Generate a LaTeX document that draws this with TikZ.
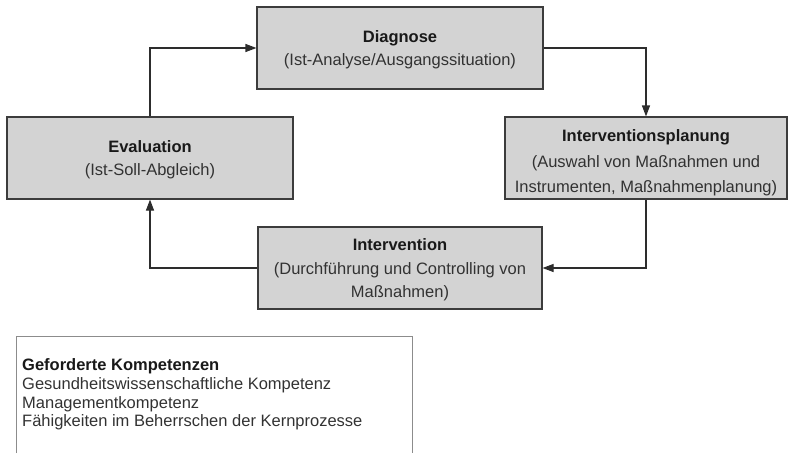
\documentclass[tikz,border=0pt]{standalone}
\usepackage{fontspec}
\setmainfont{Liberation Sans}
\usetikzlibrary{arrows.meta}
\definecolor{boxfill}{RGB}{211,211,211}
\definecolor{boxline}{RGB}{60,60,60}
\definecolor{arrowc}{RGB}{45,45,45}
\definecolor{txtreg}{RGB}{50,50,50}
\definecolor{txtbold}{RGB}{25,25,25}
\definecolor{framec}{RGB}{140,140,140}
\newcommand{\topstrut}{\rule{0pt}{16pt}}
\begin{document}
\begin{tikzpicture}[x=1pt,y=-1pt,
  stage/.style={draw=boxline, fill=boxfill, line width=1.1pt, minimum height=82pt,
    inner sep=0pt, align=center, font=\fontsize{16.5}{23.3}\selectfont, text=txtreg},
  flow/.style={draw=arrowc, line width=1.1pt, -{Triangle[length=11pt,width=8pt]}},
]
\useasboundingbox (0,0) rectangle (788,453);
\node[stage, minimum width=286pt] (diag) at (400,48)
  {\topstrut\textcolor{txtbold}{\bfseries Diagnose}\\(Ist-Analyse/Ausgangssituation)};
\node[stage, minimum width=286pt] (eval) at (150,158)
  {\topstrut\textcolor{txtbold}{\bfseries Evaluation}\\(Ist-Soll-Abgleich)};
\node[stage, minimum width=282pt, font=\fontsize{16.5}{25.5}\selectfont] (plan) at (646,158)
  {\rule{0pt}{22pt}\textcolor{txtbold}{\bfseries Interventionsplanung}\\(Auswahl von Maßnahmen und\\Instrumenten, Maßnahmenplanung)};
\node[stage, minimum width=284pt] (intv) at (400,268)
  {\topstrut\textcolor{txtbold}{\bfseries Intervention}\\(Durchführung und Controlling von\\Maßnahmen)};

\draw[flow] (eval.north) |- (diag.west);
\draw[flow] (diag.east) -| (plan.north);
\draw[flow] (plan.south) |- (intv.east);
\draw[flow] (intv.west) -| (eval.south);

\draw[draw=framec, line width=0.9pt] (16,453) -- (16,336) -- (412,336) -- (412,453);
\node[anchor=north west, inner sep=0pt, align=left, text=txtreg,
  font=\fontsize{16.5}{18.6}\selectfont] (komp) at (22,358.8)
  {\textcolor{txtbold}{\bfseries Geforderte Kompetenzen}\\
   Gesundheitswissenschaftliche Kompetenz\\
   Managementkompetenz\\
   Fähigkeiten im Beherrschen der Kernprozesse};
\end{tikzpicture}
\end{document}
